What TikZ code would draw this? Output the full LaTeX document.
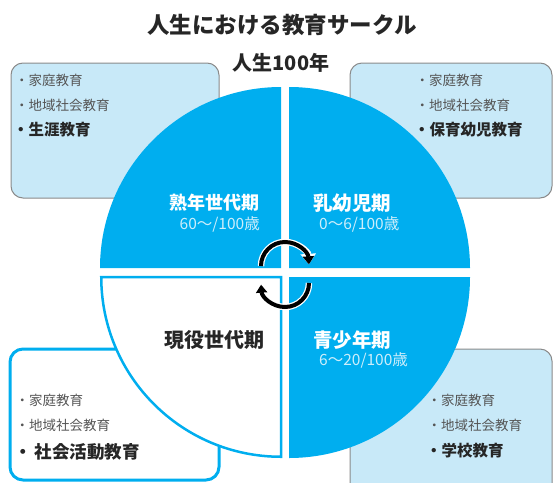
\documentclass[tikz,border=0pt]{standalone}
\usepackage{fontspec}
\setmainfont{Noto Sans CJK JP}
\usetikzlibrary{arrows.meta}
\definecolor{cyanb}{HTML}{00AEEF}
\definecolor{lightb}{HTML}{C8E9F8}
\definecolor{boxgray}{HTML}{8A8A8A}
\definecolor{txtgray}{HTML}{555555}
\definecolor{txtdark}{HTML}{262626}
\definecolor{agecol}{HTML}{CDEEFB}
\tikzset{
  infobox/.style={draw=boxgray, line width=1pt, fill=lightb, rounded corners=12pt},
  activebox/.style={draw=cyanb, line width=3pt, fill=white, rounded corners=13pt},
  quad/.style={fill=cyanb},
  quadw/.style={fill=white, draw=cyanb, line width=2.5pt},
  item/.style={inner sep=0pt, anchor=west, text=txtgray, font=\fontsize{13.5}{16}\selectfont},
  itembold/.style={inner sep=0pt, anchor=west, text=txtdark, font=\fontsize{15.5}{18}\selectfont\bfseries},
  phase/.style={inner sep=0pt, text=white, font=\fontsize{19.5}{23}\selectfont\bfseries},
  age/.style={inner sep=0pt, text=agecol, font=\fontsize{15.5}{18}\selectfont},
  cycarrow/.style={line width=4pt, black, -{Triangle[length=8pt,width=11pt]}},
  cycarrowbg/.style={line width=6.5pt, white, -{Triangle[length=10.5pt,width=15pt]}}
}
\begin{document}
\begin{tikzpicture}[x=1pt,y=-1pt]
\useasboundingbox (0,0) rectangle (553,482);
% side boxes (behind the circle)
\draw[infobox] (11,63) rectangle (219,198);
\draw[infobox] (350,63) rectangle (552,198);
\draw[infobox] (350,349) rectangle (552,500);
\draw[activebox] (10,349) rectangle (219,480);
% quadrants
\def\R{181}
\fill[quad] (281,268) -- ++(-\R,0) arc (180:270:\R) -- cycle;
\fill[quad] (289,268) -- ++(0,-\R) arc (270:360:\R) -- cycle;
\fill[quad] (289,277) -- ++(\R,0) arc (0:90:\R) -- cycle;
\filldraw[quadw] (281,277) -- ++(0,\R-1.25) arc (90:180:\R-1.25) -- cycle;
% cycle arrows
\draw[cycarrowbg] (261,266) arc (180:356:24);
\draw[cycarrow] (261,266) arc (180:356:24);
\draw[cycarrowbg] (309,283) arc (0:176:24);
\draw[cycarrow] (309,283) arc (0:176:24);
% title
\node[inner sep=0pt, text=txtdark, font=\fontsize{22.5}{26}\selectfont\bfseries] (title) at (282,25) {人生における教育サークル};
\node[inner sep=0pt, text=txtdark, font=\fontsize{20}{24}\selectfont\bfseries] (life) at (281,63) {人生100年};
% phase labels
\node[phase, anchor=east, font=\fontsize{18}{22}\selectfont\bfseries] (p1) at (260,203) {熟年世代期};
\node[age, anchor=east] (a1) at (260,224) {60〜/100歳};
\node[phase, anchor=west] (p2) at (313,203) {乳幼児期};
\node[age, anchor=west] (a2) at (319,224) {0〜6/100歳};
\node[phase, anchor=east, text=txtdark, font=\fontsize{20}{24}\selectfont\bfseries] (p3) at (265,340) {現役世代期};
\node[phase, anchor=west] (p4) at (313,340) {青少年期};
\node[age, anchor=west] (a4) at (319,360) {6〜20/100歳};
% top-left box
\node[item] (tl1) at (15,80) {・家庭教育};
\node[item] (tl2) at (15,105) {・地域社会教育};
\node[itembold] (tl3) at (13,130) {・生涯教育};
% top-right box
\node[item] (tr1) at (415.5,80) {・家庭教育};
\node[item] (tr2) at (415.5,105) {・地域社会教育};
\node[itembold] (tr3) at (414,130) {・保育幼児教育};
% bottom-left box
\node[item] (bl1) at (15.5,400) {・家庭教育};
\node[item] (bl2) at (15.5,425) {・地域社会教育};
\node[itembold, font=\fontsize{17.5}{20}\selectfont\bfseries] (bl3) at (14,452) {・\hspace{3pt}社会活動教育};
% bottom-right box
\node[item] (br1) at (427.5,400) {・家庭教育};
\node[item] (br2) at (427.5,425) {・地域社会教育};
\node[itembold] (br3) at (426,451) {・学校教育};
\end{tikzpicture}
\end{document}
